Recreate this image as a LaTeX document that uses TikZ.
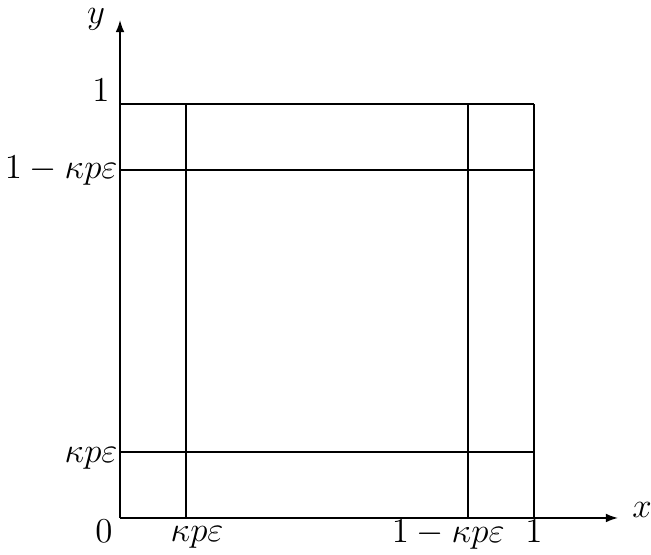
\documentclass[tikz,border=0pt]{standalone}
\usetikzlibrary{arrows.meta}
\begin{document}
\begin{tikzpicture}[x=6cm,y=6cm,
  ln/.style={line width=0.65pt},
  ax/.style={line width=0.65pt,-{Latex[length=5pt,width=3.6pt]}},
  lab/.style={inner sep=0pt,font=\Large}]
\useasboundingbox (-0.2899,-0.0870) rectangle (1.2826,1.2512);
% coordinates
\coordinate (O) at (0,0);
\coordinate (X) at (1.203,0);
\coordinate (Y) at (0,1.203);
\coordinate (a0) at (0.16,0);   \coordinate (a1) at (0.16,1);
\coordinate (b0) at (0.84,0);   \coordinate (b1) at (0.84,1);
\coordinate (c0) at (1,0);      \coordinate (c1) at (1,1);
\coordinate (d0) at (0,0.16);   \coordinate (d1) at (1,0.16);
\coordinate (e0) at (0,0.84);   \coordinate (e1) at (1,0.84);
\coordinate (f0) at (0,1);      \coordinate (f1) at (1,1);
% lines
\draw[ln] (a0) -- (a1);
\draw[ln] (b0) -- (b1);
\draw[ln] (c0) -- (c1);
\draw[ln] (d0) -- (d1);
\draw[ln] (e0) -- (e1);
\draw[ln] (f0) -- (f1);
\draw[ax] (O) -- (X);
\draw[ax] (O) -- (Y);
% labels
\node[lab,anchor=base] (ly) at (-0.058,1.195) {$y$};
\node[lab,anchor=base] (lx) at (1.261,0) {$x$};
\node[lab,anchor=base east] (l1y) at (-0.024,1.005) {$1$};
\node[lab,anchor=base east] (l2y) at (-0.005,0.819) {$1-\kappa p\varepsilon$};
\node[lab,anchor=base east] (l3y) at (-0.005,0.135) {$\kappa p\varepsilon$};
\node[lab,anchor=base east] (l0) at (-0.017,-0.060) {$0$};
\node[lab,anchor=base] (l1x) at (0.186,-0.058) {$\kappa p\varepsilon$};
\node[lab,anchor=base east] (l2x) at (0.930,-0.060) {$1-\kappa p\varepsilon$};
\node[lab,anchor=base] (l3x) at (1.0,-0.060) {$1$};
\end{tikzpicture}
\end{document}
